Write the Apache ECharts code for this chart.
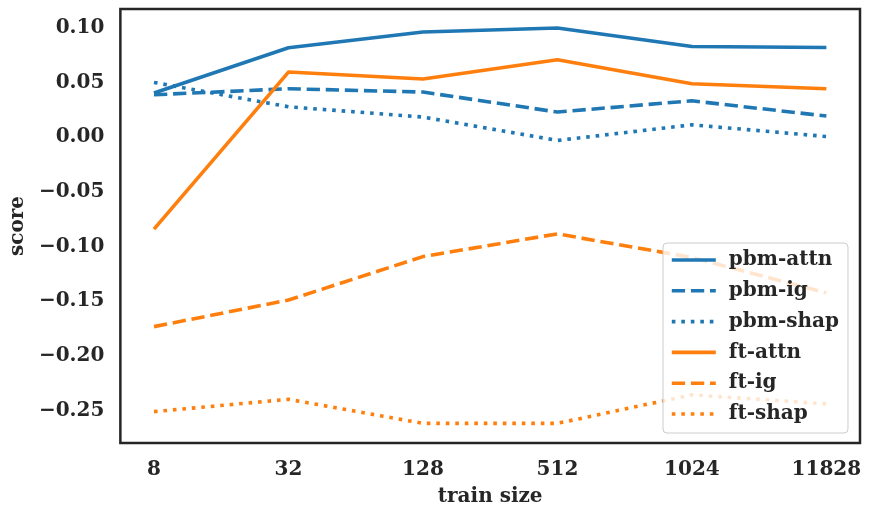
<!DOCTYPE html>
<html>
<head>
<meta charset="utf-8">
<script src="https://cdn.jsdelivr.net/npm/echarts@6/dist/echarts.min.js"></script>
<style>html,body{margin:0;padding:0;background:#fff}#c{width:872px;height:516px}</style>
</head>
<body>
<div id="c"></div>
<script>
const categories = ['8', '32', '128', '512', '1024', '11828'];
const yTicks = [-0.25, -0.20, -0.15, -0.10, -0.05, 0.00, 0.05, 0.10];
const pbmAttn = [0.0405, 0.0820, 0.0963, 0.1000, 0.0831, 0.0822];
const pbmIg   = [0.0389, 0.0444, 0.0414, 0.0231, 0.0334, 0.0194];
const pbmShap = [0.0502, 0.0279, 0.0185, -0.0029, 0.0114, 0.0007];
const ftAttn  = [-0.0841, 0.0597, 0.0533, 0.0710, 0.0490, 0.0444];
const ftIg    = [-0.1733, -0.1490, -0.1092, -0.0884, -0.1100, -0.1424];
const ftShap  = [-0.2511, -0.2398, -0.2618, -0.2618, -0.2357, -0.2440];

const BLUE = '#1f77b4', ORANGE = '#ff7f0e', TXT = '#262626';
const FONT = '"DejaVu Serif", serif';
const LW = 3.6;
const DASH = [13.3, 5.8], DOT = [3.6, 5.9];

function mk(name, vals, color, type) {
  return {
    name, type: 'line', data: vals.map((v, i) => [i, v]),
    showSymbol: false, symbol: 'none', smooth: false,
    lineStyle: { color, width: LW, type, cap: 'butt', join: 'round' },
    itemStyle: { color }, emphasis: { disabled: true }, silent: true
  };
}

const chart = echarts.init(document.getElementById('c'), null, { renderer: 'canvas' });
chart.setOption({
  animation: false,
  backgroundColor: '#fff',
  grid: { left: 118, top: 9, right: 12, bottom: 73, show: true, borderColor: TXT, borderWidth: 2.5, backgroundColor: 'transparent' },
  xAxis: {
    type: 'value', min: -0.25, max: 5.25,
    name: 'train size', nameLocation: 'middle', nameGap: 44,
    nameTextStyle: { fontFamily: FONT, fontWeight: 'bold', fontSize: 20, color: TXT },
    axisLine: { show: false }, axisTick: { show: false }, splitLine: { show: false },
    axisLabel: {
      customValues: [0, 1, 2, 3, 4, 5], margin: 17,
      formatter: v => categories[Math.round(v)],
      fontFamily: FONT, fontWeight: 'bold', fontSize: 20, color: TXT
    }
  },
  yAxis: {
    type: 'value', min: -0.2798, max: 0.1174,
    name: 'score', nameLocation: 'middle', nameGap: 85, nameRotate: 90,
    nameTextStyle: { fontFamily: FONT, fontWeight: 'bold', fontSize: 20, color: TXT },
    axisLine: { show: false }, axisTick: { show: false }, splitLine: { show: false },
    axisLabel: {
      customValues: yTicks, margin: 16,
      formatter: v => (v < 0 ? '\u2212' : '') + Math.abs(v).toFixed(2),
      fontFamily: FONT, fontWeight: 'bold', fontSize: 20, color: TXT
    }
  },
  legend: {
    orient: 'vertical', left: 663, top: 243,
    itemWidth: 44, itemHeight: 20, itemGap: 10.8,
    padding: [7, 9, 9, 7],
    backgroundColor: 'rgba(255,255,255,0.8)', borderColor: '#cccccc', borderWidth: 1, borderRadius: 4,
    lineStyle: { width: LW },
    itemStyle: { color: 'rgba(0,0,0,0)', borderWidth: 0, opacity: 0 },
    textStyle: { fontFamily: FONT, fontWeight: 'bold', fontSize: 20, color: TXT, padding: [0, 0, 0, 8], lineHeight: 20 },
    selectedMode: false,
    data: ['pbm-attn', 'pbm-ig', 'pbm-shap', 'ft-attn', 'ft-ig', 'ft-shap']
  },
  series: [
    mk('pbm-attn', pbmAttn, BLUE, 'solid'),
    mk('pbm-ig', pbmIg, BLUE, DASH),
    mk('pbm-shap', pbmShap, BLUE, DOT),
    mk('ft-attn', ftAttn, ORANGE, 'solid'),
    mk('ft-ig', ftIg, ORANGE, DASH),
    mk('ft-shap', ftShap, ORANGE, DOT)
  ]
});
</script>
</body>
</html>
